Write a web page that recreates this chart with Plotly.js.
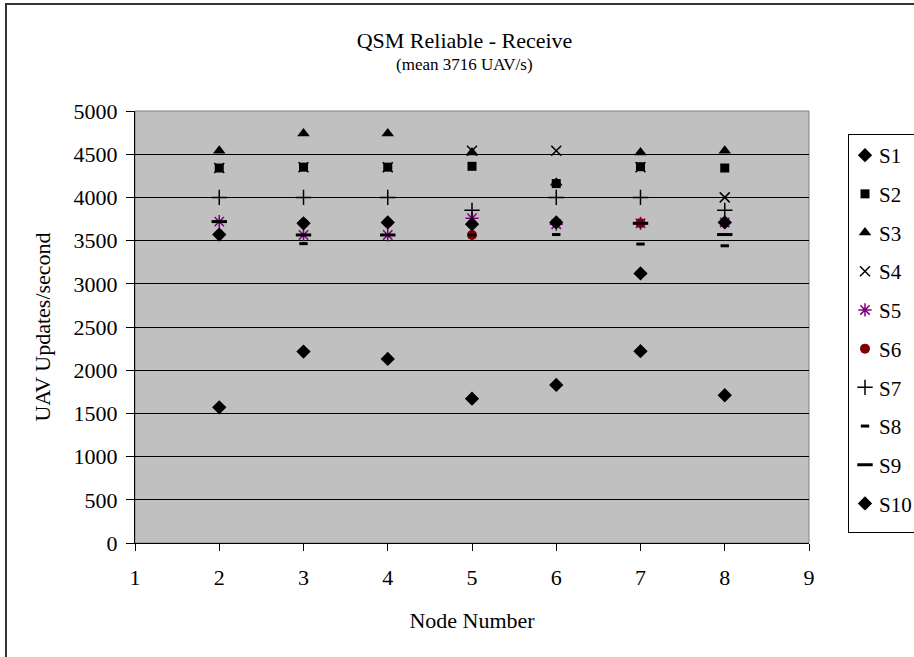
<!DOCTYPE html>
<html>
<head>
<meta charset="utf-8">
<script src="https://cdn.plot.ly/plotly-3.0.1.min.js"></script>
<style>
  html, body { margin: 0; padding: 0; background: #fff; overflow: hidden; }
  #wrap { position: relative; width: 914px; height: 657px; }
  #chart { position: absolute; left: 0; top: 0; width: 914px; height: 657px; }
  #frame { position: absolute; left: 5px; top: 3px; width: 1000px; height: 1000px;
           border: 2px solid #333; pointer-events: none; }
</style>
</head>
<body>
<div id="wrap">
  <div id="chart"></div>
  <div id="frame"></div>
</div>
<script>
// Receiving node numbers
const nodes = [2, 3, 4, 5, 6, 7, 8];

// Updates per second received from each sender
const s1  = [1570, 2215, 2130, 1670, 1830, 2220, 1710];
const s2  = [4340, 4350, 4350, 4360, 4160, 4355, 4340];
const s3  = [4540, 4740, 4740, 4520, 4170, 4520, 4540];
const s4  = [4340, 4350, 4350, 4540, 4540, 4350, 4000];
const s5  = [3720, 3565, 3565, 3760, 3690, 3700, 3710];
const s6  = [3570, 3700, 3710, 3565, 3710, 3700, 3710];
const s7  = [4000, 4000, 4000, 3850, 4000, 4000, 3850];
const s8  = [null, 3465, null, 3565, 3570, 3460, 3440];
const s9  = [3720, 3565, 3565, null, null, 3700, 3570];
const s10 = [3570, 3700, 3710, 3690, 3710, 3120, 3710];

const seriesNames = ["S1", "S2", "S3", "S4", "S5", "S6", "S7", "S8", "S9", "S10"];
const seriesValues = [s1, s2, s3, s4, s5, s6, s7, s8, s9, s10];

const markerStyles = [
  { symbol: "diamond", size: 11, color: "#000" },
  { symbol: "square", size: 9, color: "#000" },
  { symbol: "triangle-up", size: 11, color: "#000" },
  { symbol: "x-thin-open", size: 10, color: "#000", line: { color: "#000", width: 1.5 } },
  { symbol: "asterisk-open", size: 11, color: "#800080", line: { color: "#800080", width: 1.5 } },
  { symbol: "circle", size: 10, color: "#800000" },
  { symbol: "cross-thin-open", size: 11, color: "#000", line: { color: "#000", width: 1.5 } },
  { symbol: "line-ew-open", size: 6, color: "#000", line: { color: "#000", width: 3 } },
  { symbol: "line-ew-open", size: 11, color: "#000", line: { color: "#000", width: 3 } },
  { symbol: "diamond", size: 11, color: "#000" }
];

const serif = "'Liberation Serif', 'Times New Roman', serif";

const traces = seriesNames.map((name, i) => ({
  type: "scatter",
  mode: "markers",
  name: name,
  legendgroup: name,
  x: nodes,
  y: seriesValues[i],
  marker: markerStyles[i],
  cliponaxis: false,
  hoverinfo: "x+y+name"
}));

// Title block is centred on the whole chart rather than on the plot area
const titleX = (466 - 135) / 677;

const layout = {
  width: 914,
  height: 657,
  margin: { l: 135, r: 102, t: 111, b: 114 },
  paper_bgcolor: "#fff",
  plot_bgcolor: "#c0c0c0",
  font: { family: serif, color: "#000", size: 21 },
  title: {
    text: "QSM Reliable - Receive",
    font: { family: serif, size: 22, color: "#000" },
    x: titleX, xref: "paper", xanchor: "center",
    y: 1 - 40 / 657, yref: "container", yanchor: "middle"
  },
  annotations: [{
    text: "(mean 3716 UAV/s)",
    xref: "paper", yref: "paper",
    x: titleX, y: (543 - 64) / 432,
    xanchor: "center", yanchor: "middle",
    showarrow: false,
    font: { family: serif, size: 17, color: "#000" }
  }],
  xaxis: {
    range: [1, 9],
    tick0: 1, dtick: 1,
    showgrid: false, zeroline: false,
    showline: true, linecolor: "#000", linewidth: 1,
    ticks: "outside", ticklen: 7, tickcolor: "#000",
    ticklabelstandoff: 8,
    tickfont: { family: serif, size: 22 },
    fixedrange: true,
    title: { text: "Node Number", font: { family: serif, size: 22 }, standoff: 23 }
  },
  yaxis: {
    range: [0, 5000],
    tick0: 0, dtick: 500,
    showgrid: true, gridcolor: "#000", gridwidth: 1,
    zeroline: false,
    showline: true, linecolor: "#000", linewidth: 1,
    ticks: "outside", ticklen: 8, tickcolor: "#000",
    ticklabelstandoff: 4,
    tickfont: { family: serif, size: 22 },
    fixedrange: true,
    title: { text: "UAV Updates/second", font: { family: serif, size: 22 }, standoff: 16 }
  },
  shapes: [{
    type: "rect", xref: "paper", yref: "paper",
    x0: 0, x1: 1, y0: 0, y1: 1,
    line: { color: "#808080", width: 1 }, layer: "below"
  }],
  showlegend: true,
  legend: {
    x: 1.02, xanchor: "left",
    y: (543 - 134) / 432, yanchor: "top",
    bgcolor: "#fff", bordercolor: "#000", borderwidth: 1,
    font: { family: serif, size: 21, color: "#000" },
    tracegroupgap: 8.4,
    itemsizing: "trace"
  }
};

Plotly.newPlot("chart", traces, layout, { displayModeBar: false, staticPlot: true }).then(gd => {
  // The legend box runs past the right edge of the figure, so place it by hand.
  const leg = gd.querySelector("g.legend");
  if (!leg) return;
  leg.setAttribute("transform", "translate(838,134)");
  const bg = leg.querySelector("rect.bg");
  if (bg) {
    const bx = parseFloat(bg.getAttribute("x") || "0");
    bg.setAttribute("x", bx + 10);
    bg.setAttribute("width", 200);
    bg.setAttribute("height", 398);
  }
  leg.querySelectorAll("g.legendsymbols").forEach(g => g.setAttribute("transform", "translate(6,0)"));
});
</script>
</body>
</html>
